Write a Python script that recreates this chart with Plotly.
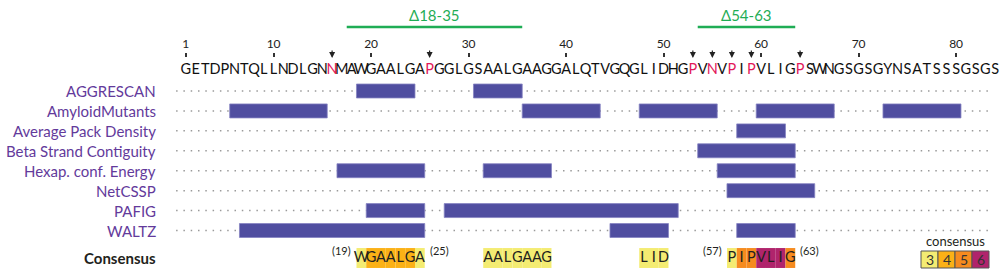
import plotly.graph_objects as go

# ---------------- data ----------------
sequence = "GETDPNTQLLNDLGNNMAWGAALGAPGGLGSAALGAAGGALQTVGQGLIDHGPVNVPIPVLIGPSWNGSGSGYNSATSSSGSGS"
marked_residues = [16, 26, 53, 55, 57, 59, 64]          # red letters with arrows
tick_residues = [1, 10, 20, 30, 40, 50, 60, 70, 80]

methods = ["AGGRESCAN", "AmyloidMutants", "Average Pack Density", "Beta Strand Contiguity",
           "Hexap. conf. Energy", "NetCSSP", "PAFIG", "WALTZ"]

# predicted segments per method: (first residue, last residue)
aggrescan = [(19, 24), (31, 35)]
amyloid_mutants = [(6, 15), (36, 43), (48, 55), (60, 67), (73, 80)]
avg_pack_density = [(58, 62)]
beta_strand_contiguity = [(54, 63)]
hexap_conf_energy = [(17, 25), (32, 38), (56, 63)]
netcssp = [(57, 65)]
pafig = [(20, 25), (28, 51)]
waltz = [(7, 25), (45, 50), (58, 63)]
segments = [aggrescan, amyloid_mutants, avg_pack_density, beta_strand_contiguity,
            hexap_conf_energy, netcssp, pafig, waltz]

deletion_labels = ["Δ18-35", "Δ54-63"]
deletion_start = [18, 54]
deletion_end = [35, 63]

consensus_residues = [19, 20, 21, 22, 23, 24, 25,
                      32, 33, 34, 35, 36, 37, 38,
                      48, 49, 50,
                      57, 58, 59, 60, 61, 62, 63]
consensus_levels = [3, 4, 4, 4, 4, 4, 3,
                    3, 3, 3, 3, 3, 3, 3,
                    3, 3, 3,
                    3, 5, 5, 6, 6, 6, 5]
consensus_label_start = [19, 57]
consensus_label_end = [25, 63]

legend_levels = [3, 4, 5, 6]
level_colors = {3: "#f4ec72", 4: "#fbb116", 5: "#f68b1f", 6: "#b0246c"}

# ---------------- styles ----------------
FONT = "Lato"
BAR = "#504ea0"
PURPLE = "#633a9b"
RED = "#e3185a"
GREEN = "#1fad55"
DARK = "#231f20"

W, H = 1000, 276
PX0, PXS = 176.1, 9.75          # pixel = PX0 + PXS * residue
PY0, PYS = 91.0, 19.93          # pixel = PY0 + PYS * row

def row_of(py):
    return (py - PY0) / PYS

SEQ_ROW = row_of(70)
CONS_ROW = row_of(258)

fig = go.Figure()

# method bars
for i, segs in enumerate(segments):
    fig.add_trace(go.Bar(
        orientation="h",
        y=[i] * len(segs),
        base=[s - 0.5 for s, e in segs],
        x=[e - s + 1 for s, e in segs],
        width=0.7,
        marker=dict(color=BAR, line=dict(color="#8583c2", width=0.8)),
        hoverinfo="skip", showlegend=False,
    ))

# consensus background cells
fig.add_trace(go.Bar(
    orientation="h",
    y=[CONS_ROW] * len(consensus_residues),
    base=[n - 0.5 for n in consensus_residues],
    x=[1] * len(consensus_residues),
    width=1.0,
    marker=dict(color=[level_colors[l] for l in consensus_levels], line=dict(width=0)),
    hoverinfo="skip", showlegend=False,
))

# sequence letters
fig.add_trace(go.Scatter(
    x=list(range(1, len(sequence) + 1)),
    y=[SEQ_ROW] * len(sequence),
    mode="text",
    text=list(sequence),
    textfont=dict(family=FONT, size=14.5,
                  color=[RED if (k + 1) in marked_residues else "#111111" for k in range(len(sequence))]),
    hoverinfo="skip", showlegend=False,
))

# consensus letters
fig.add_trace(go.Scatter(
    x=consensus_residues,
    y=[CONS_ROW] * len(consensus_residues),
    mode="text",
    text=[sequence[n - 1] for n in consensus_residues],
    textfont=dict(family=FONT, size=14.5, color=DARK),
    hoverinfo="skip", showlegend=False,
))

shapes = []
annotations = []

# dotted guide lines
for i in range(len(methods)):
    shapes.append(dict(type="line", xref="x", yref="y", x0=0, x1=len(sequence) - 0.5,
                       y0=i, y1=i, layer="below",
                       line=dict(color="#9a9a9a", width=1.5, dash="1.5px,5.8px")))

# deletion lines + labels
for lab, s, e in zip(deletion_labels, deletion_start, deletion_end):
    shapes.append(dict(type="line", xref="x", yref="y", x0=s - 0.5, x1=e + 0.5,
                       y0=row_of(27), y1=row_of(27), line=dict(color=GREEN, width=2.5)))
    annotations.append(dict(x=(s + e) / 2, y=row_of(15), xref="x", yref="y", text=lab,
                            xanchor="center", yanchor="middle",
                            showarrow=False, font=dict(family=FONT, size=15, color=GREEN)))

# arrows above marked residues
for n in marked_residues:
    annotations.append(dict(x=n, y=row_of(58), xref="x", yref="y", text="",
                            showarrow=True, ax=0, ay=-9, arrowhead=2, arrowsize=1,
                            arrowwidth=1.2, arrowcolor="#222222", standoff=0))

# method labels
for i, m in enumerate(methods):
    annotations.append(dict(x=158 / W, xref="paper", y=i, yref="y", text=m,
                            xanchor="right", yanchor="middle",
                            showarrow=False, font=dict(family=FONT, size=15, color=PURPLE)))
annotations.append(dict(x=158 / W, xref="paper", y=CONS_ROW, yref="y", text="<b>Consensus</b>",
                        xanchor="right", yanchor="middle", showarrow=False,
                        font=dict(family=FONT, size=15, color=DARK)))

# segment number labels
for s, e in zip(consensus_label_start, consensus_label_end):
    annotations.append(dict(x=s - 0.5, y=row_of(250), xref="x", yref="y", text=f"({s})",
                            xanchor="right", yanchor="middle", xshift=-3, showarrow=False,
                            font=dict(family=FONT, size=11, color=DARK)))
    annotations.append(dict(x=e + 0.5, y=row_of(250), xref="x", yref="y", text=f"({e})",
                            xanchor="left", yanchor="middle", xshift=3, showarrow=False,
                            font=dict(family=FONT, size=11, color=DARK)))

# consensus legend
LX0, LCW, LY0, LY1 = 921, 17, 251, 268
for k, lev in enumerate(legend_levels):
    x0 = LX0 + k * LCW
    shapes.append(dict(type="rect", xref="paper", yref="paper",
                       x0=x0 / W, x1=(x0 + LCW) / W, y0=1 - LY1 / H, y1=1 - LY0 / H,
                       fillcolor=level_colors[lev], line=dict(color="#555555", width=1)))
    annotations.append(dict(x=(x0 + LCW / 2) / W, y=1 - (LY0 + LY1) / 2 / H, xref="paper", yref="paper",
                            xanchor="center", yanchor="middle",
                            text=str(lev), showarrow=False,
                            font=dict(family=FONT, size=14, color="#333333")))
annotations.append(dict(x=(LX0 + 2 * LCW) / W, y=1 - 241 / H, xref="paper", yref="paper",
                        xanchor="center", yanchor="middle",
                        text="consensus", showarrow=False,
                        font=dict(family=FONT, size=13, color=DARK)))

fig.update_layout(
    width=W, height=H,
    margin=dict(l=0, r=0, t=0, b=0),
    paper_bgcolor="white", plot_bgcolor="white",
    barmode="overlay",
    shapes=shapes, annotations=annotations,
    xaxis=dict(range=[(0 - PX0) / PXS, (W - PX0) / PXS], side="top", anchor="free",
               position=1 - 57 / H, tickvals=tick_residues, ticks="outside", ticklen=4,
               tickwidth=1.5, tickcolor="#333333", showgrid=False, zeroline=False,
               showline=False, tickfont=dict(family=FONT, size=12, color="#222222"),
               fixedrange=True),
    yaxis=dict(range=[(H - PY0) / PYS, (0 - PY0) / PYS], visible=False, fixedrange=True),
)

fig.write_html("out.html", config={"displayModeBar": False},
               post_script="document.body.style.margin='0';document.body.style.overflow='hidden';")
